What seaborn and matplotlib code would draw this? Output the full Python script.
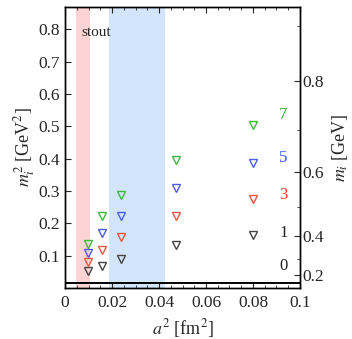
import matplotlib
matplotlib.use("Agg")
import matplotlib.pyplot as plt
import seaborn as sns
import pandas as pd

# a^2 values (fm^2) and m_i^2 (GeV^2)
a2 = [0.0099, 0.0156, 0.0236, 0.0472, 0.0799]
m2_i1 = [0.053, 0.067, 0.091, 0.132, 0.163]
m2_i3 = [0.081, 0.119, 0.157, 0.222, 0.276]
m2_i5 = [0.109, 0.170, 0.222, 0.308, 0.388]
m2_i7 = [0.136, 0.224, 0.289, 0.397, 0.503]
m2_i0 = 0.016  # horizontal line for i=0

series_names = ["1", "3", "5", "7"]
series_colors = ["#444444", "#f0553f", "#4a5cf0", "#3dba3d"]
label_names = ["0", "1", "3", "5", "7"]
label_y = [0.069, 0.171, 0.288, 0.402, 0.534]
label_cols = ["#222222", "#222222", "#ff3a20", "#3050ff", "#22aa22"]

right_ticks = [0.2, 0.4, 0.6, 0.8]
right_minor = [0.3, 0.5, 0.7, 0.9]

df = pd.DataFrame({"a2": a2, "1": m2_i1, "3": m2_i3, "5": m2_i5, "7": m2_i7})

sns.set_theme(style="ticks")
plt.rcParams["font.family"] = ["Liberation Serif", "DejaVu Serif"]
plt.rcParams["mathtext.fontset"] = "stix"

fig = plt.figure(figsize=(3.52, 3.39), dpi=100)
ax = fig.add_axes([0.185, 0.150, 0.667, 0.829])

# bands
ax.axvspan(0.0046, 0.0106, color="#fdd3d3", lw=0, zorder=0)
ax.axvspan(0.0186, 0.0425, color="#d3e5fb", lw=0, zorder=0)

ax.axhline(m2_i0, color="black", lw=1.4, zorder=1)

for name, col in zip(series_names, series_colors):
    sns.lineplot(data=df, x="a2", y=name, ax=ax, linestyle="", marker="v",
                 markersize=6, markerfacecolor="none", markeredgecolor=col,
                 markeredgewidth=1.0, color=col)

for lab, y, c in zip(label_names, label_y, label_cols):
    ax.text(0.0929, y, lab, color=c, fontsize=12, ha="center", va="center")

ax.text(0.0068, 0.79, "stout", fontsize=11, ha="left", va="center")

ax.set_xlim(0, 0.1)
ax.set_ylim(0, 0.868)
ax.set_xticks([0, 0.02, 0.04, 0.06, 0.08, 0.1])
ax.set_xticklabels(["0", "0.02", "0.04", "0.06", "0.08", "0.1"])
ax.set_xticks([i * 0.005 for i in range(21)], minor=True)
ax.set_yticks([0.1, 0.2, 0.3, 0.4, 0.5, 0.6, 0.7, 0.8])
ax.set_yticklabels(["0.1", "0.2", "0.3", "0.4", "0.5", "0.6", "0.7", "0.8"])
ax.tick_params(axis="x", which="both", direction="in", top=True, bottom=True,
               labelsize=12.5, pad=5)
ax.tick_params(axis="x", which="major", length=4, width=0.8)
ax.tick_params(axis="x", which="minor", length=2.5, width=0.6)
ax.tick_params(axis="y", which="major", direction="in", length=4, width=0.8,
               labelsize=12.5, left=True, right=False)
ax.set_xlabel(r"$a^2$ [fm$^2$]", fontsize=13, labelpad=4)
ax.set_ylabel(r"$m_i^2$ [GeV$^2$]", fontsize=13, labelpad=1)

ax2 = ax.twinx()
ax2.set_ylim(ax.get_ylim())
ax2.set_yticks([v ** 2 for v in right_ticks])
ax2.set_yticklabels([f"{v:g}" for v in right_ticks])
ax2.set_yticks([v ** 2 for v in right_minor], minor=True)
ax2.tick_params(axis="y", which="major", direction="in", length=4, width=0.8,
                labelsize=12.5, pad=2)
ax2.tick_params(axis="y", which="minor", direction="in", length=2.5, width=0.6)
ax2.set_ylabel(r"$m_i$ [GeV]", fontsize=13, labelpad=4)

for a in (ax, ax2):
    for s in a.spines.values():
        s.set_linewidth(1.0)
        s.set_color("black")

fig.savefig("out.png", dpi=100)
